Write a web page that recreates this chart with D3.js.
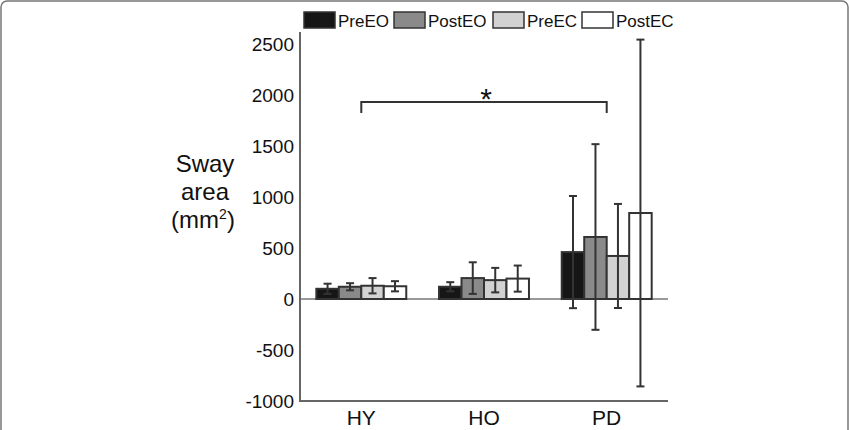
<!DOCTYPE html>
<html>
<head>
<meta charset="utf-8">
<script src="https://cdn.jsdelivr.net/npm/d3@7"></script>
<style>
  html, body { margin: 0; padding: 0; background: #fff; }
  svg { display: block; font-family: "Liberation Sans", Arial, sans-serif; }
</style>
</head>
<body>
<svg id="chart" width="850" height="430"></svg>
<script>
// ---- data ----
const groups = ["HY", "HO", "PD"];
const seriesNames = ["PreEO", "PostEO", "PreEC", "PostEC"];
const seriesColors = ["#161616", "#8a8a8a", "#d2d2d2", "#ffffff"];
const meanPreEO  = [100, 120, 460];
const meanPostEO = [120, 205, 608];
const meanPreEC  = [130, 185, 422];
const meanPostEC = [125, 200, 843];
const sdPreEO  = [50, 45, 550];
const sdPostEO = [35, 155, 910];
const sdPreEC  = [75, 120, 510];
const sdPostEC = [50, 128, 1700];
const yTicks = [-1000, -500, 0, 500, 1000, 1500, 2000, 2500];
const sigPair = ["HY", "PD"];
const sigLabel = "*";

const means = [meanPreEO, meanPostEO, meanPreEC, meanPostEC];
const sds = [sdPreEO, sdPostEO, sdPreEC, sdPostEC];

const svg = d3.select("#chart");

// frame
svg.append("rect")
  .attr("x", 1).attr("y", 1).attr("width", 847).attr("height", 460)
  .attr("rx", 6).attr("ry", 6)
  .attr("fill", "none").attr("stroke", "#777").attr("stroke-width", 1.5);

const x0 = d3.scaleBand().domain(groups).range([300, 668])
  .paddingInner(0.267).paddingOuter(0.133);
const x1 = d3.scaleBand().domain(seriesNames).range([0, x0.bandwidth()]);
const y = d3.scaleLinear().domain([-1000, 2500]).range([401, 44]);

// y axis
const yAxis = d3.axisLeft(y).tickValues(yTicks).tickSize(0).tickPadding(6)
  .tickFormat(d => String(d));
const gy = svg.append("g").attr("transform", "translate(300,0)").call(yAxis);
gy.select(".domain").remove();
gy.selectAll("text").attr("font-size", 19).attr("fill", "#111")
  .attr("font-family", "Liberation Sans, Arial, sans-serif");

// zero line
svg.append("line")
  .attr("x1", 300).attr("x2", 668).attr("y1", y(0)).attr("y2", y(0))
  .attr("stroke", "#777").attr("stroke-width", 1.5);

// bars
const data = [];
groups.forEach((g, gi) => {
  seriesNames.forEach((s, si) => {
    data.push({ g, s, si, mean: means[si][gi], sd: sds[si][gi] });
  });
});

svg.append("g").selectAll("rect").data(data).join("rect")
  .attr("x", d => x0(d.g) + x1(d.s))
  .attr("y", d => y(d.mean))
  .attr("width", x1.bandwidth())
  .attr("height", d => y(0) - y(d.mean))
  .attr("fill", d => seriesColors[d.si])
  .attr("stroke", "#333").attr("stroke-width", 2);

// error bars
const eb = svg.append("g").attr("stroke", "#333").attr("stroke-width", 2);
data.forEach(d => {
  const cx = x0(d.g) + x1(d.s) + x1.bandwidth() / 2;
  const hi = y(d.mean + d.sd), lo = y(d.mean - d.sd);
  eb.append("line").attr("x1", cx).attr("x2", cx).attr("y1", hi).attr("y2", lo);
  eb.append("line").attr("x1", cx - 4).attr("x2", cx + 4).attr("y1", hi).attr("y2", hi);
  eb.append("line").attr("x1", cx - 4).attr("x2", cx + 4).attr("y1", lo).attr("y2", lo);
});

// axes lines
svg.append("line").attr("x1", 300).attr("x2", 300).attr("y1", 32).attr("y2", 402)
  .attr("stroke", "#666").attr("stroke-width", 2);
svg.append("line").attr("x1", 299).attr("x2", 668).attr("y1", 401).attr("y2", 401)
  .attr("stroke", "#666").attr("stroke-width", 2);

// x axis labels
const xAxis = d3.axisBottom(x0).tickSize(0).tickPadding(9);
const gx = svg.append("g").attr("transform", "translate(0,401)").call(xAxis);
gx.select(".domain").remove();
gx.selectAll("text").attr("font-size", 21).attr("fill", "#111")
  .attr("font-family", "Liberation Sans, Arial, sans-serif");

// significance bracket
const bx1 = x0(sigPair[0]) + x0.bandwidth() / 2;
const bx2 = x0(sigPair[1]) + x0.bandwidth() / 2;
svg.append("path")
  .attr("d", `M${bx1},113V102H${bx2}V113`)
  .attr("fill", "none").attr("stroke", "#333").attr("stroke-width", 2);
svg.append("text").attr("x", (bx1 + bx2) / 2 + 2).attr("y", 109)
  .attr("text-anchor", "middle").attr("font-size", 30).attr("fill", "#111")
  .text(sigLabel);

// y label
const yl = svg.append("text").attr("text-anchor", "middle").attr("font-size", 24).attr("fill", "#111");
yl.append("tspan").attr("x", 205).attr("y", 172).text("Sway");
yl.append("tspan").attr("x", 205).attr("y", 200).text("area");
const t3 = yl.append("tspan").attr("x", 203).attr("y", 228);
t3.text("(mm");
yl.append("tspan").attr("font-size", 14).attr("dy", -9).text("2");
yl.append("tspan").attr("dy", 9).text(")");

// legend
const legX = [304, 394, 493, 582];
const leg = svg.append("g");
seriesNames.forEach((s, i) => {
  leg.append("rect").attr("x", legX[i]).attr("y", 12).attr("width", 31).attr("height", 16)
    .attr("fill", seriesColors[i]).attr("stroke", "#333").attr("stroke-width", 1.5);
  leg.append("text").attr("x", legX[i] + 34).attr("y", 27).attr("font-size", 17)
    .attr("fill", "#111").text(s);
});
</script>
</body>
</html>
